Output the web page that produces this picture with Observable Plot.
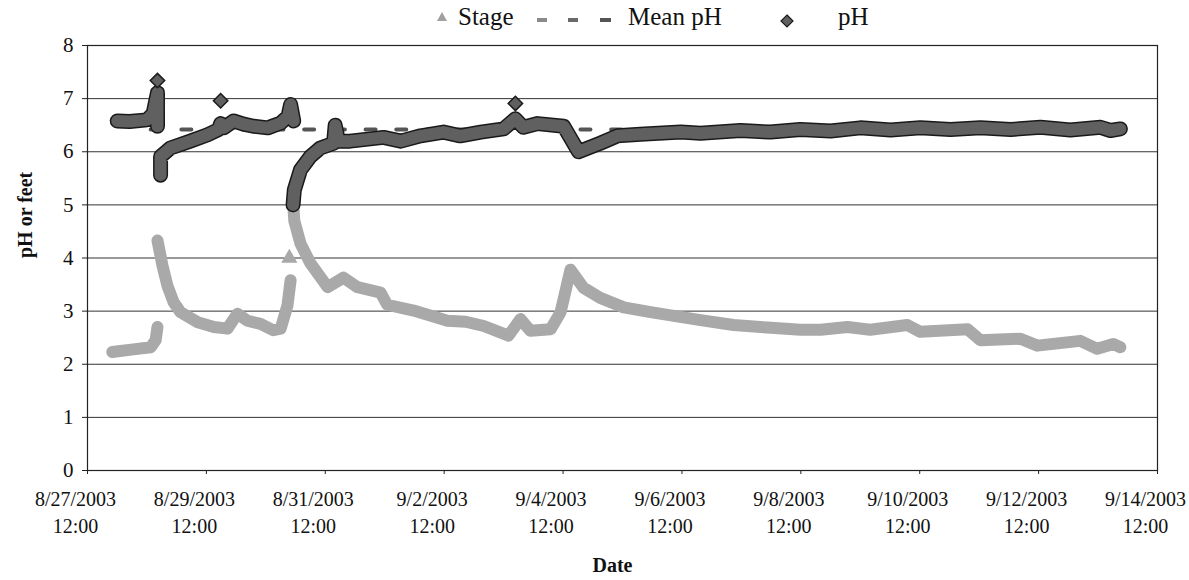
<!DOCTYPE html>
<html>
<head>
<meta charset="utf-8">
<script src="https://cdn.jsdelivr.net/npm/d3@7"></script>
<script src="https://cdn.jsdelivr.net/npm/@observablehq/plot@0.6"></script>
<style>
  html, body { margin: 0; padding: 0; background: #fff; }
  #wrap { width: 1189px; height: 580px; position: relative; overflow: hidden; font-family: "Liberation Serif", "DejaVu Serif", serif; }
  #legend { position: relative; width: 1189px; height: 30px; }
  #legend .lt { position: absolute; top: 4px; font-size: 25px; line-height: 25px; color: #111; white-space: nowrap; }
  #legend svg { position: absolute; overflow: visible; }
</style>
</head>
<body>
<div id="wrap">
  <div id="legend">
    <svg style="left:437px;top:12px" width="10" height="9"><path d="M5,0 L10,9 L0,9 Z" fill="#a0a0a0"/></svg>
    <span class="lt" style="left:458px">Stage</span>
    <svg style="left:537px;top:18px" width="80" height="5">
      <rect x="0" y="0" width="10" height="4" fill="#8a8a8a"/>
      <rect x="31" y="0" width="10" height="4" fill="#6a6a6a"/>
      <rect x="63" y="0" width="11" height="4" fill="#555"/>
    </svg>
    <span class="lt" style="left:628px">Mean pH</span>
    <svg style="left:781px;top:15px" width="12" height="12"><path d="M6,0 L12,6 L6,12 L0,6 Z" fill="#606060" stroke="#1a1a1a" stroke-width="1.2"/></svg>
    <span class="lt" style="left:838px">pH</span>
  </div>
  <div id="chart"></div>
</div>
<script>
// ---------- data ----------
const xTickLabels = ["2003-08-27T12:00","2003-08-29T12:00","2003-08-31T12:00","2003-09-02T12:00","2003-09-04T12:00",
                     "2003-09-06T12:00","2003-09-08T12:00","2003-09-10T12:00","2003-09-12T12:00","2003-09-14T12:00"];
const yTicks = [0, 1, 2, 3, 4, 5, 6, 7, 8];

const phTime = [
  "2003-08-28T00:00","2003-08-28T05:00","2003-08-28T12:00","2003-08-28T14:30","2003-08-28T16:15","2003-08-28T16:15","2003-08-28T16:15",
  "2003-08-28T17:30","2003-08-28T17:30","2003-08-28T21:30","2003-08-29T05:30","2003-08-29T12:30","2003-08-29T17:00","2003-08-29T17:45",
  "2003-08-29T19:00","2003-08-29T23:00","2003-08-30T03:00","2003-08-30T07:00","2003-08-30T12:45","2003-08-30T18:00","2003-08-30T21:00",
  "2003-08-30T22:00","2003-08-30T23:15","2003-08-30T23:15",
  "2003-08-30T23:00","2003-08-30T23:30","2003-08-31T02:00","2003-08-31T06:00","2003-08-31T10:00","2003-08-31T15:20","2003-08-31T16:00",
  "2003-08-31T17:20","2003-08-31T22:00","2003-09-01T11:30","2003-09-01T18:30","2003-09-02T02:30","2003-09-02T11:45","2003-09-02T18:30",
  "2003-09-03T02:45","2003-09-03T12:00","2003-09-03T16:45","2003-09-03T20:00","2003-09-04T01:45","2003-09-04T12:15","2003-09-04T18:15",
  "2003-09-05T03:00","2003-09-05T10:00","2003-09-05T19:15","2003-09-06T11:30","2003-09-06T19:30","2003-09-07T11:40","2003-09-07T23:45",
  "2003-09-08T11:50","2003-09-09T00:00","2003-09-09T12:00","2003-09-10T00:15","2003-09-10T12:15","2003-09-11T00:25","2003-09-11T12:30",
  "2003-09-12T00:40","2003-09-12T12:45","2003-09-13T00:50","2003-09-13T13:00","2003-09-13T17:00","2003-09-13T21:00"
];
const phValue = [
  6.58, 6.57, 6.60, 6.72, 7.11, 6.48, null,
  5.56, 5.91, 6.07, 6.20, 6.32, 6.42, 6.53,
  6.45, 6.58, 6.52, 6.48, 6.45, 6.54, 6.67,
  6.89, 6.58, null,
  5.00, 5.28, 5.66, 5.91, 6.07, 6.16, 6.50,
  6.20, 6.20, 6.27, 6.20, 6.30, 6.37, 6.30,
  6.37, 6.43, 6.62, 6.46, 6.53, 6.48, 6.00,
  6.16, 6.30, 6.33, 6.37, 6.35, 6.40, 6.37,
  6.42, 6.39, 6.45, 6.41, 6.45, 6.42, 6.45,
  6.42, 6.46, 6.41, 6.46, 6.40, 6.43
];
const phOutlierTime = ["2003-08-28T16:15", "2003-08-29T17:45", "2003-09-03T16:45"];
const phOutlierValue = [7.34, 6.96, 6.91];

const stageTime = [
  "2003-08-27T22:00","2003-08-28T06:30","2003-08-28T13:30","2003-08-28T15:30","2003-08-28T16:15","2003-08-28T16:15",
  "2003-08-28T16:15","2003-08-28T18:15","2003-08-28T20:15","2003-08-28T22:45","2003-08-29T01:30","2003-08-29T08:30","2003-08-29T15:00",
  "2003-08-29T20:30","2003-08-30T00:30","2003-08-30T04:30","2003-08-30T09:50","2003-08-30T15:00","2003-08-30T18:00","2003-08-30T20:45",
  "2003-08-30T22:00","2003-08-30T22:00",
  "2003-08-30T23:00","2003-08-30T23:30","2003-08-31T02:00","2003-08-31T06:00","2003-08-31T13:00","2003-08-31T19:20","2003-09-01T01:00",
  "2003-09-01T10:20","2003-09-01T13:00","2003-09-01T23:40","2003-09-02T13:20","2003-09-02T20:40","2003-09-03T04:00","2003-09-03T14:00",
  "2003-09-03T18:50","2003-09-03T22:50","2003-09-04T07:00","2003-09-04T11:00","2003-09-04T15:00","2003-09-04T20:15","2003-09-05T03:00",
  "2003-09-05T12:30","2003-09-05T23:20","2003-09-06T07:30","2003-09-06T19:30","2003-09-07T08:50","2003-09-07T22:30","2003-09-08T11:50",
  "2003-09-08T20:00","2003-09-09T06:50","2003-09-09T16:00","2003-09-10T07:00","2003-09-10T12:15","2003-09-11T07:20","2003-09-11T12:30",
  "2003-09-12T04:40","2003-09-12T11:30","2003-09-13T04:50","2003-09-13T11:40","2003-09-13T18:10","2003-09-13T21:00"
];
const stageValue = [
  2.23, 2.28, 2.32, 2.45, 2.70, null,
  4.33, 3.86, 3.48, 3.17, 2.98, 2.79, 2.70,
  2.67, 2.95, 2.82, 2.76, 2.64, 2.67, 3.11,
  3.58, null,
  5.05, 4.70, 4.27, 3.90, 3.45, 3.63, 3.45,
  3.35, 3.12, 3.01, 2.82, 2.80, 2.72, 2.54,
  2.85, 2.63, 2.66, 2.98, 3.78, 3.44, 3.25,
  3.07, 2.98, 2.92, 2.83, 2.74, 2.69, 2.65,
  2.65, 2.70, 2.65, 2.74, 2.61, 2.66, 2.45,
  2.48, 2.35, 2.44, 2.29, 2.38, 2.32
];
const stageOutlierTime = ["2003-08-30T21:30"];
const stageOutlierValue = [4.00];

const meanTime = ["2003-08-28T13:30", "2003-09-13T21:00"];
const meanValue = [6.42, 6.42];

// ---------- build ----------
const parse = d3.utcParse("%Y-%m-%dT%H:%M");
const fmt = d3.utcFormat("%-m/%-d/%Y\n%H:%M");
const rows = (ts, vs) => ts.map((t, i) => ({t: parse(t), v: vs[i]}));
const ph = rows(phTime, phValue);
const phOut = rows(phOutlierTime, phOutlierValue);
const stage = rows(stageTime, stageValue);
const stageOut = rows(stageOutlierTime, stageOutlierValue);
const mean = rows(meanTime, meanValue);
const xTicks = xTickLabels.map(parse);

const chart = Plot.plot({
  width: 1189,
  height: 550,
  marginLeft: 87,
  marginRight: 32,
  marginTop: 15,
  marginBottom: 110,
  style: {fontFamily: "'Liberation Serif', 'DejaVu Serif', serif", fontSize: "20px", color: "#111", background: "#fff"},
  x: {type: "utc", domain: [xTicks[0], xTicks[xTicks.length - 1]]},
  y: {domain: [0, 8]},
  marks: [
    Plot.ruleY(yTicks.slice(1), {stroke: "#333", strokeWidth: 1}),
    Plot.frame({stroke: "#222", strokeWidth: 1.2}),
    Plot.axisY({ticks: yTicks, tickSize: 5, tickPadding: 9, fontSize: 21, label: null, stroke: "#222"}),
    Plot.axisX({ticks: xTicks, tickSize: 4, tickFormat: () => "", label: null, stroke: "#222"}),
    Plot.text(xTicks, {x: d => d, frameAnchor: "bottom", dx: -12, dy: 16, text: d => fmt(d), lineAnchor: "top", lineHeight: 1.35, fontSize: 20, fill: "#111"}),
    Plot.text(["pH or feet"], {text: d => d, frameAnchor: "left", dx: -62, rotate: -90, fontWeight: "bold", fontSize: 20, fill: "#111"}),
    Plot.text(["Date"], {text: d => d, frameAnchor: "bottom", dx: -10, dy: 101, fontWeight: "bold", fontSize: 20, fill: "#111"}),
    // Stage (light gray band)
    Plot.line(stage, {x: "t", y: "v", stroke: "#a9a9a9", strokeWidth: 12, strokeLinejoin: "round", strokeLinecap: "round"}),
    Plot.dot(stageOut, {x: "t", y: "v", symbol: "triangle", r: 6, fill: "#a9a9a9"}),
    // Mean pH dashed
    Plot.line(mean, {x: "t", y: "v", stroke: "#555", strokeWidth: 4, strokeDasharray: "10,20.7"}),
    // pH (dark band with black outline)
    Plot.line(ph, {x: "t", y: "v", stroke: "#1a1a1a", strokeWidth: 15, strokeLinejoin: "round", strokeLinecap: "round"}),
    Plot.line(ph, {x: "t", y: "v", stroke: "#606060", strokeWidth: 12, strokeLinejoin: "round", strokeLinecap: "round"}),
    Plot.dot(phOut, {x: "t", y: "v", symbol: "diamond2", r: 6.5, fill: "#606060", stroke: "#1a1a1a", strokeWidth: 1.5})
  ]
});
document.getElementById("chart").appendChild(chart);
</script>
</body>
</html>
